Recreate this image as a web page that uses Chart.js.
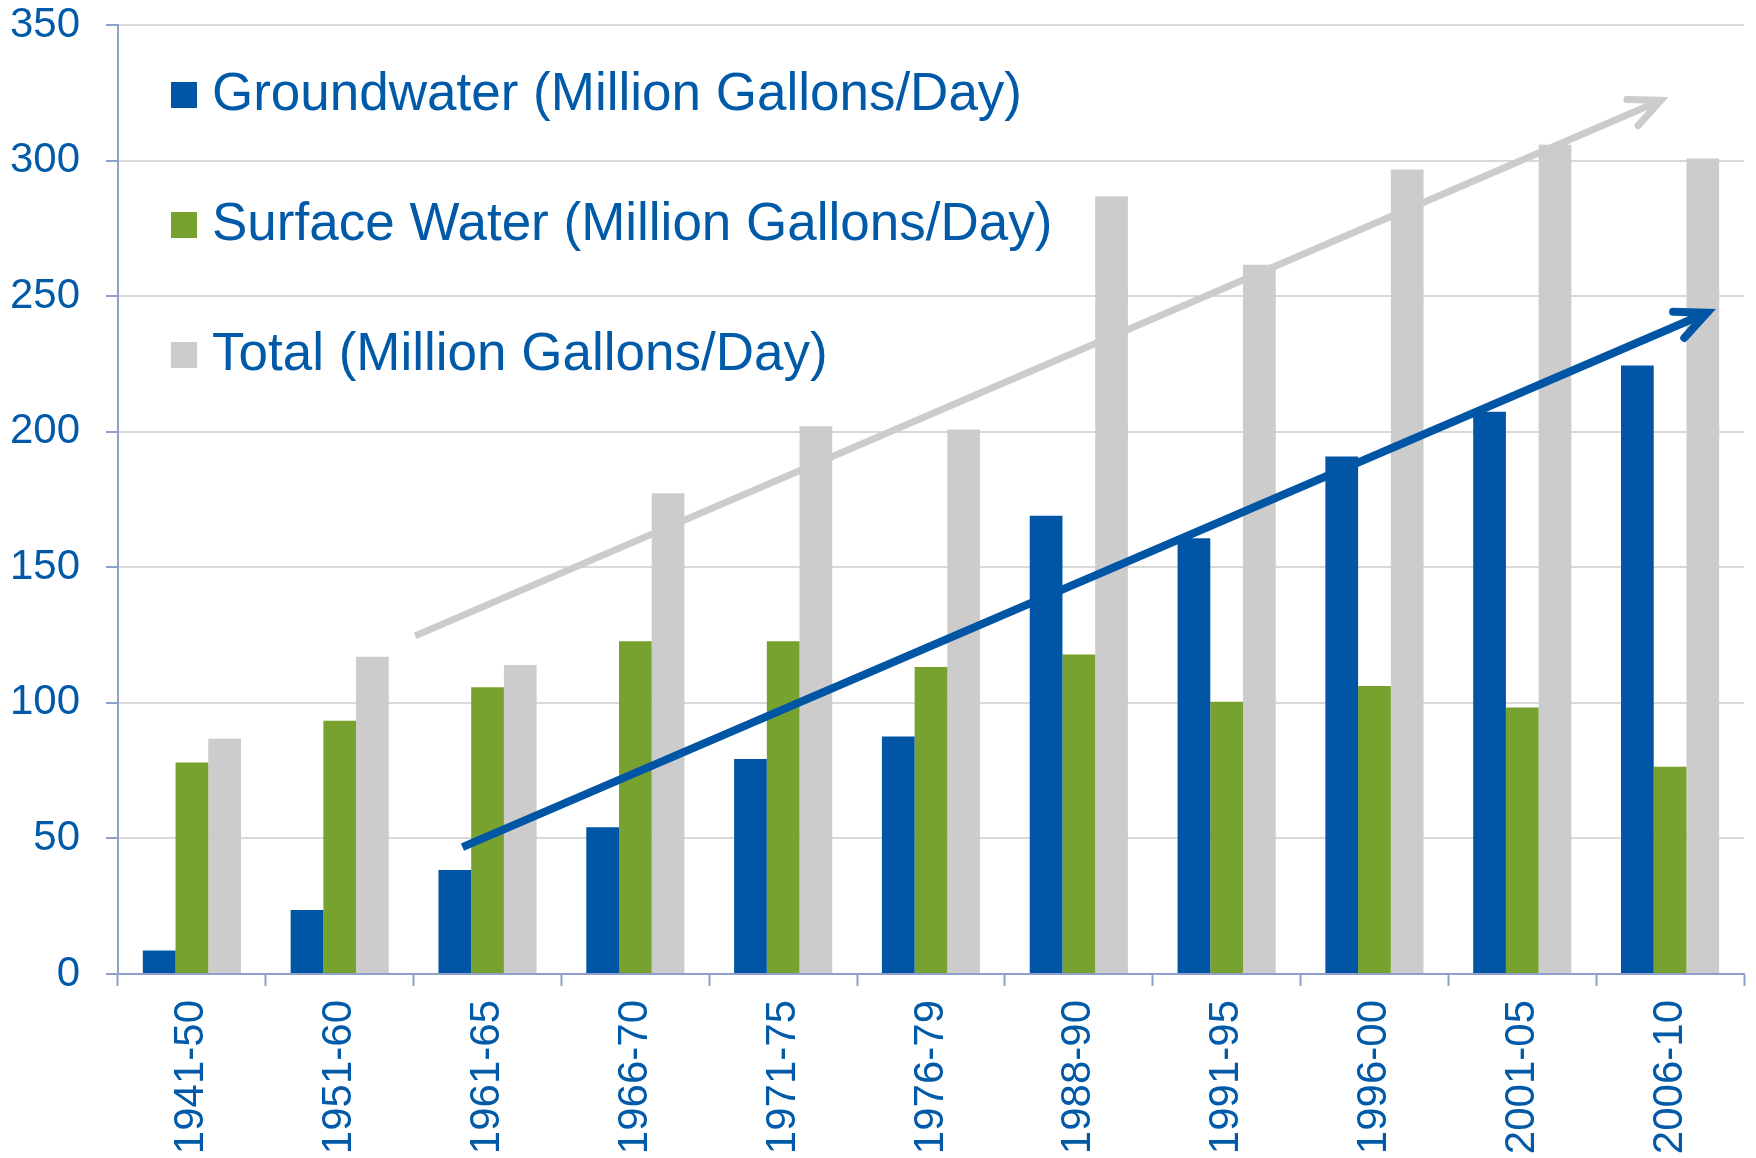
<!DOCTYPE html>
<html>
<head>
<meta charset="utf-8">
<script src="https://cdn.jsdelivr.net/npm/chart.js@4"></script>
<style>
html, body { margin: 0; padding: 0; background: #fff; }
#wrap { width: 1756px; height: 1158px; }
</style>
</head>
<body>
<div id="wrap"><canvas id="waterChart" width="1756" height="1158"></canvas></div>
<script>
const periods = ['1941-50', '1951-60', '1961-65', '1966-70', '1971-75', '1976-79', '1988-90', '1991-95', '1996-00', '2001-05', '2006-10'];
const groundwater = [8.7, 23.6, 38.4, 54.1, 79.3, 87.6, 169, 160.7, 190.9, 207.4, 224.4];
const surfaceWater = [78, 93.4, 105.8, 122.7, 122.7, 113.2, 117.8, 100.4, 106.2, 98.3, 76.4];
const totalUse = [86.8, 117, 114, 177.3, 202, 200.8, 286.8, 261.6, 296.7, 305.8, 300.8];
const yTicks = [0, 50, 100, 150, 200, 250, 300, 350];

// trend arrows, [category index, value] for start and tip
const totalTrend = [[1.51, 124.7], [9.99, 323.4]];
const groundTrend = [[1.83, 46.8], [10.31, 245.3]];

const textBlue = '#005aa8';
const axisColor = '#8e9fcb';
const fontFamily = 'Arial, "Liberation Sans", sans-serif';

function drawArrow(ctx, x0, y0, x1, y1, color, width) {
    const ang = Math.atan2(y1 - y0, x1 - x0);
    const head = 34;
    const spread = 0.43;
    // pull the path vertex back so the mitred point lands on the tip
    const back = (width / 2) / Math.sin(spread);
    const vx = x1 - Math.cos(ang) * back;
    const vy = y1 - Math.sin(ang) * back;
    ctx.strokeStyle = color;
    ctx.lineWidth = width;
    ctx.lineCap = 'butt';
    ctx.beginPath();
    ctx.moveTo(x0, y0);
    ctx.lineTo(vx - Math.cos(ang) * 4, vy - Math.sin(ang) * 4);
    ctx.stroke();
    ctx.lineCap = 'round';
    ctx.lineJoin = 'miter';
    ctx.miterLimit = 10;
    ctx.beginPath();
    ctx.moveTo(vx - head * Math.cos(ang - spread), vy - head * Math.sin(ang - spread));
    ctx.lineTo(vx, vy);
    ctx.lineTo(vx - head * Math.cos(ang + spread), vy - head * Math.sin(ang + spread));
    ctx.stroke();
}

const trendArrows = {
    id: 'trendArrows',
    afterDatasetsDraw(chart) {
        const ctx = chart.ctx;
        const xs = chart.scales.x;
        const ys = chart.scales.y;
        const px = p => [xs.getPixelForValue(p[0]), ys.getPixelForValue(p[1])];
        ctx.save();
        let a = px(totalTrend[0]), b = px(totalTrend[1]);
        drawArrow(ctx, a[0], a[1], b[0], b[1], '#cccccc', 7);
        a = px(groundTrend[0]); b = px(groundTrend[1]);
        drawArrow(ctx, a[0], a[1], b[0], b[1], '#0055a5', 8);
        ctx.restore();
    }
};

const legendInside = {
    id: 'legendInside',
    afterDraw(chart) {
        const ctx = chart.ctx;
        const area = chart.chartArea;
        ctx.save();
        ctx.font = '53px ' + fontFamily;
        ctx.textBaseline = 'middle';
        chart.data.datasets.forEach((ds, i) => {
            const y = area.top + 70 + i * 130;
            ctx.fillStyle = ds.backgroundColor;
            ctx.fillRect(area.left + 53, y - 13, 26, 26);
            ctx.fillStyle = textBlue;
            ctx.fillText(ds.label, area.left + 94, y);
        });
        ctx.restore();
    }
};

const ctx = document.getElementById('waterChart').getContext('2d');
new Chart(ctx, {
    type: 'bar',
    data: {
        labels: periods,
        datasets: [{
            label: 'Groundwater (Million Gallons/Day)',
            data: groundwater,
            backgroundColor: '#0055a5'
        }, {
            label: 'Surface Water (Million Gallons/Day)',
            data: surfaceWater,
            backgroundColor: '#78a22f'
        }, {
            label: 'Total (Million Gallons/Day)',
            data: totalUse,
            backgroundColor: '#cccccc'
        }]
    },
    options: {
        responsive: false,
        devicePixelRatio: 1,
        animation: false,
        layout: { padding: { top: 0, right: 12, bottom: 0, left: 0 } },
        datasets: {
            bar: { barPercentage: 1, categoryPercentage: 0.664 }
        },
        scales: {
            x: {
                grid: {
                    display: true,
                    drawOnChartArea: false,
                    drawTicks: true,
                    tickLength: 12,
                    tickColor: axisColor,
                    tickWidth: 2,
                    offset: true
                },
                border: { display: true, color: axisColor, width: 2 },
                ticks: {
                    color: textBlue,
                    font: { size: 42, family: fontFamily },
                    minRotation: 90,
                    maxRotation: 90,
                    padding: 14,
                    autoSkip: false
                },
                afterFit(scale) { scale.height = 184; }
            },
            y: {
                min: 0,
                max: 350,
                afterBuildTicks(scale) { scale.ticks = yTicks.map(v => ({ value: v })); },
                ticks: {
                    color: textBlue,
                    font: { size: 42, family: fontFamily },
                    padding: 26
                },
                grid: {
                    color: '#d9d9d9',
                    lineWidth: 2,
                    tickColor: axisColor,
                    tickLength: 12,
                    tickWidth: 2
                },
                border: { color: axisColor, width: 2 },
                afterFit(scale) {
                    scale.width = 118;
                    scale.paddingTop = 25;
                    scale.paddingBottom = 0;
                }
            }
        },
        plugins: {
            legend: { display: false },
            tooltip: { enabled: false }
        }
    },
    plugins: [trendArrows, legendInside]
});
</script>
</body>
</html>
